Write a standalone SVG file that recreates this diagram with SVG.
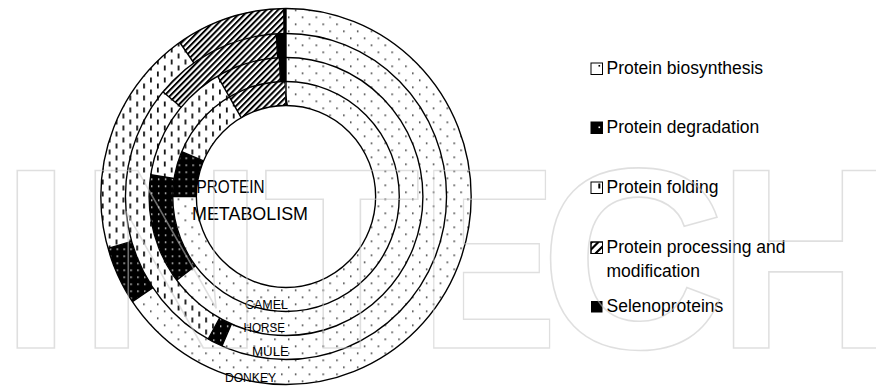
<svg xmlns="http://www.w3.org/2000/svg" width="876" height="392" viewBox="0 0 876 392">
  <defs>
    <!-- fill patterns for the five protein categories -->
    <pattern id="pBio" width="14" height="14" patternUnits="userSpaceOnUse">
      <rect width="14" height="14" fill="#fff"/>
      <rect x="2" y="2" width="1.5" height="1.5" fill="#222"/>
      <rect x="9" y="9" width="1.5" height="1.5" fill="#222"/>
    </pattern>
    <pattern id="pDeg" width="7" height="7" patternUnits="userSpaceOnUse">
      <rect width="7" height="7" fill="#000"/>
      <rect x="3" y="3" width="1.4" height="1.4" fill="#fff"/>
    </pattern>
    <pattern id="pFold" width="14" height="12" patternUnits="userSpaceOnUse">
      <rect width="14" height="12" fill="#fff"/>
      <rect x="2" y="1" width="1.8" height="5" fill="#111"/>
      <rect x="9" y="7" width="1.8" height="5" fill="#111"/>
    </pattern>
    <pattern id="pProc" width="4.2" height="4.2" patternUnits="userSpaceOnUse" patternTransform="rotate(45)">
      <rect width="4.2" height="4.2" fill="#fff"/>
      <rect width="2" height="4.2" fill="#000"/>
    </pattern>
    <clipPath id="clipLegProc">
      <rect x="591" y="242" width="11.5" height="11.5"/>
    </clipPath>
  </defs>
  <style>
    .seg{fill:none}
    .bio{stroke:url(#pBio)}
    .deg{stroke:url(#pDeg)}
    .fold{stroke:url(#pFold)}
    .proc{stroke:url(#pProc)}
    .sel{stroke:#000}
    .edge{fill:none;stroke:#000;stroke-width:1.4}
    .lbl{font-family:"Liberation Sans",Arial,sans-serif;fill:#000}
    .leg{font-family:"Liberation Sans",Arial,sans-serif;font-size:17.5px;fill:#000}
    .box{stroke:#000;stroke-width:1}
    .wm{font-family:"Liberation Sans",Arial,sans-serif;font-weight:bold;font-size:258px;fill:none;stroke:#c4c4c4;stroke-opacity:0.55;stroke-width:1.6}
  </style>

  <rect width="876" height="392" fill="#fff"/>

  <!-- rings: dash lengths in degrees (pathLength 360), starting at 3 o'clock, clockwise -->
  <g transform="translate(286,196.5) scale(0.985,1)">
    <g id="ring-camel" stroke-width="24">
      <circle class="seg bio" r="103"/>
      <circle class="seg deg" r="103" pathLength="360" stroke-dasharray="23 337" stroke-dashoffset="180"/>
      <circle class="seg fold" r="103" pathLength="360" stroke-dasharray="37 323" stroke-dashoffset="157"/>
      <circle class="seg proc" r="103" pathLength="360" stroke-dasharray="29.6 330.4" stroke-dashoffset="120"/>
      <circle class="seg sel" r="103" pathLength="360" stroke-dasharray="0.4 359.6" stroke-dashoffset="90.4"/>
    </g>
    <g id="ring-horse" stroke-width="24">
      <circle class="seg bio" r="127"/>
      <circle class="seg deg" r="127" pathLength="360" stroke-dasharray="46 314" stroke-dashoffset="217"/>
      <circle class="seg fold" r="127" pathLength="360" stroke-dasharray="51 309" stroke-dashoffset="171"/>
      <circle class="seg proc" r="127" pathLength="360" stroke-dasharray="27.2 332.8" stroke-dashoffset="120"/>
      <circle class="seg sel" r="127" pathLength="360" stroke-dasharray="2.8 357.2" stroke-dashoffset="92.8"/>
    </g>
    <g id="ring-mule" stroke-width="24">
      <circle class="seg bio" r="151"/>
      <circle class="seg deg" r="151" pathLength="360" stroke-dasharray="5.5 354.5" stroke-dashoffset="246.5"/>
      <circle class="seg fold" r="151" pathLength="360" stroke-dasharray="101 259" stroke-dashoffset="241"/>
      <circle class="seg proc" r="151" pathLength="360" stroke-dasharray="46.5 313.5" stroke-dashoffset="140"/>
      <circle class="seg sel" r="151" pathLength="360" stroke-dasharray="3.5 356.5" stroke-dashoffset="93.5"/>
    </g>
    <g id="ring-donkey" stroke-width="25">
      <circle class="seg bio" r="175.5"/>
      <circle class="seg deg" r="175.5" pathLength="360" stroke-dasharray="18 342" stroke-dashoffset="214"/>
      <circle class="seg fold" r="175.5" pathLength="360" stroke-dasharray="71 289" stroke-dashoffset="196"/>
      <circle class="seg proc" r="175.5" pathLength="360" stroke-dasharray="34.3 325.7" stroke-dashoffset="125"/>
      <circle class="seg sel" r="175.5" pathLength="360" stroke-dasharray="0.7 359.3" stroke-dashoffset="90.7"/>
    </g>

    <!-- ring outlines and segment boundaries -->
    <g id="borders">
      <circle class="edge" r="91" fill="#fff"/>
      <circle class="edge" r="115"/>
      <circle class="edge" r="139"/>
      <circle class="edge" r="163"/>
      <circle class="edge" r="188"/>
      <path class="edge" d="M0,-91V-188
        M-91,0L-115,0 M-83.8,-35.6L-105.9,-44.9 M-45.5,-78.8L-57.5,-99.6
        M-91.8,69.2L-111,83.7 M-113.6,-18L-137.3,-21.7 M-57.5,-99.6L-69.5,-120.4 M-5.6,-114.9L-6.8,-138.8
        M-55.4,127.5L-65,149.5 M-67.4,121.6L-79,142.6 M-106.5,-89.3L-124.9,-104.8 M-8.5,-138.7L-9.9,-162.7
        M-135.1,91.1L-155.9,105.1 M-156.7,44.9L-180.7,51.8 M-93.5,-133.5L-107.8,-154 M-2,-163L-2.3,-188"/>
    </g>
  </g>

  <!-- chart labels -->
  <g id="labels">
    <text class="lbl" x="196.5" y="192.7" font-size="17.7" textLength="68" lengthAdjust="spacingAndGlyphs">PROTEIN</text>
    <text class="lbl" x="192" y="220" font-size="18" textLength="116" lengthAdjust="spacingAndGlyphs">METABOLISM</text>
    <text class="lbl" x="245" y="309" font-size="12.5">CAMEL</text>
    <text class="lbl" x="243.5" y="332" font-size="12.5" textLength="41.5" lengthAdjust="spacingAndGlyphs">HORSE</text>
    <text class="lbl" x="252" y="356.3" font-size="12.5" textLength="37" lengthAdjust="spacingAndGlyphs">MULE</text>
    <text class="lbl" x="225" y="382" font-size="12.5" textLength="51" lengthAdjust="spacingAndGlyphs">DONKEY</text>
  </g>

  <!-- legend -->
  <g id="legend-biosynthesis">
    <rect class="box" x="591" y="63" width="11.5" height="11.5" fill="#fff"/>
    <rect x="598.5" y="65" width="1.6" height="1.6" fill="#000"/>
    <text class="leg" x="606.5" y="74.3">Protein biosynthesis</text>
  </g>
  <g id="legend-degradation">
    <rect class="box" x="591" y="122" width="11.5" height="11.5" fill="#000"/>
    <rect x="598.5" y="126.5" width="1.6" height="1.6" fill="#fff"/>
    <text class="leg" x="606.5" y="132.7">Protein degradation</text>
  </g>
  <g id="legend-folding">
    <rect class="box" x="591" y="182" width="11.5" height="11.5" fill="#fff"/>
    <rect x="598.3" y="183.5" width="2" height="5" fill="#000"/>
    <text class="leg" x="606.5" y="193">Protein folding</text>
  </g>
  <g id="legend-processing">
    <rect class="box" x="591" y="242" width="11.5" height="11.5" fill="#fff"/>
    <g clip-path="url(#clipLegProc)" stroke="#000" stroke-width="2.2">
      <path d="M587,253.5L598.5,242 M591.5,257.5L604,245 M584,250L594,240"/>
    </g>
    <rect x="591" y="242" width="11.5" height="11.5" fill="none" class="box"/>
    <text class="leg" x="606.5" y="253">Protein processing and</text>
    <text class="leg" x="606.5" y="276.7">modification</text>
  </g>
  <g id="legend-selenoproteins">
    <rect x="591" y="301" width="11.5" height="11.5" fill="#000"/>
    <text class="leg" x="606.5" y="311.7">Selenoproteins</text>
  </g>

  <!-- faint outlined publisher mark across the figure -->
  <g id="watermark">
    <text class="wm" x="0" y="348">I</text>
    <text class="wm" x="78" y="348">N</text>
    <text class="wm" x="263" y="348">T</text>
    <text class="wm" transform="translate(435,348) scale(0.8,1)" x="-18.8" y="0">E</text>
    <text class="wm" x="540" y="348">C</text>
    <text class="wm" transform="translate(735,348) scale(0.95,1)" x="-18.8" y="0">H</text>
  </g>
</svg>
